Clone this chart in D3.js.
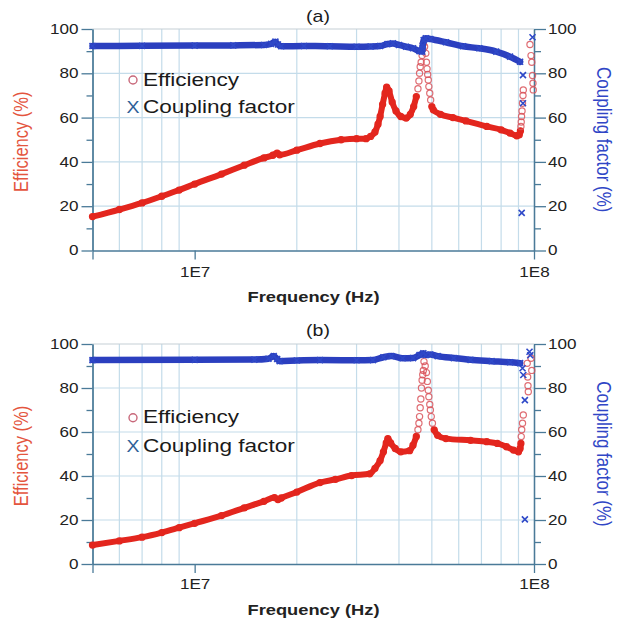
<!DOCTYPE html>
<html>
<head>
<meta charset="utf-8">
<script src="https://cdn.jsdelivr.net/npm/d3@7"></script>
<style>
  body { margin: 0; background: #fff; }
  svg { display: block; }
  text { font-family: "Liberation Sans", Arial, sans-serif; }
</style>
</head>
<body>
<svg id="chart" width="639" height="621"></svg>
<script>
// values: [frequency (Hz), percent]; null breaks the line
const xDomain = [5e6, 1e8];
const xGrid = [6e6, 7e6, 8e6, 9e6, 2e7, 3e7, 4e7, 5e7, 6e7, 7e7, 8e7, 9e7];
const xTicks = [5e6, 1e7, 1e8];
const xTickText = ["", "1E7", "1E8"];
const yTicks = [0, 20, 40, 60, 80, 100];
const yMinor = [10, 30, 50, 70, 90];

// panel (a)
const effA = [
  [5e6, 15.3], [6e6, 18.5], [7e6, 21.5], [8e6, 24.5], [9e6, 27.3], [1e7, 30],
  [1.2e7, 34.5], [1.4e7, 38.5], [1.6e7, 41.8], [1.7e7, 43], [1.75e7, 44], [1.78e7, 43.2],
  [2e7, 45.3], [2.34e7, 48.3], [2.7e7, 50], [3.0e7, 50.5], [3.2e7, 50.5], [3.3e7, 51.5],
  [3.4e7, 53.5], [3.47e7, 57], [3.52e7, 60.5], [3.58e7, 66], [3.64e7, 71], [3.68e7, 73.8],
  [3.74e7, 72], [3.82e7, 67], [3.92e7, 63], [4.05e7, 60.5], [4.2e7, 59.8], [4.32e7, 61.5],
  [4.42e7, 65], [4.5e7, 69.5], [4.52e7, null],
  [5.0e7, 65], [5.05e7, 63.5], [5.3e7, 61.5], [5.77e7, 60], [6.3e7, 58.5], [7.26e7, 56],
  [8.0e7, 54.5], [8.5e7, 53], [8.9e7, 51.8], [9.05e7, 52.3], [9.12e7, 54]
];
const effAScatter = [
  [4.55e7, 73], [4.58e7, 76.5], [4.6e7, 80], [4.62e7, 83], [4.65e7, 85], [4.68e7, 88],
  [4.7e7, 91], [4.72e7, 93.5], [4.76e7, 92], [4.8e7, 89], [4.82e7, 85], [4.84e7, 82],
  [4.86e7, 79.5], [4.88e7, 77], [4.9e7, 74], [4.93e7, 71], [4.96e7, 68],
  [9.15e7, 56], [9.17e7, 58], [9.19e7, 60.5], [9.22e7, 63], [9.25e7, 66.5], [9.28e7, 70],
  [9.3e7, 72.5], [9.73e7, 93], [9.8e7, 88], [9.85e7, 85], [9.9e7, 79], [9.93e7, 75.5], [9.95e7, 72.5]
];
const cfA = [
  [5e6, 92.3], [7e6, 92.4], [1e7, 92.5], [1.3e7, 92.6], [1.6e7, 92.8], [1.68e7, 93.3],
  [1.73e7, 94.3], [1.76e7, 93], [1.8e7, 92.2], [2.1e7, 92.3], [2.5e7, 92.2], [3.0e7, 92],
  [3.3e7, 92.1], [3.52e7, 92.3], [3.7e7, 93.2], [3.84e7, 93.5], [4.0e7, 92.8], [4.2e7, 92],
  [4.4e7, 91.3], [4.6e7, 90], [4.68e7, 89.8], [4.7e7, 92.5], [4.73e7, 95], [4.8e7, 95.8],
  [4.95e7, 95.5], [5.5e7, 94], [6.18e7, 92.2], [6.9e7, 91.3], [7.74e7, 89.8], [8.5e7, 87.5],
  [9.1e7, 85.2]
];
const cfAScatter = [
  [9.28e7, 79.2], [9.28e7, 66.5], [9.2e7, 17], [9.9e7, 96.3], [4.69e7, 91.2]
];

// panel (b)
const effB = [
  [5e6, 8.6], [6e6, 10.5], [7e6, 12.2], [8e6, 14.3], [9e6, 16.5], [1e7, 18.5],
  [1.2e7, 22], [1.4e7, 25.5], [1.6e7, 28.5], [1.72e7, 30.2], [1.76e7, 29.3], [1.8e7, 30],
  [2e7, 32.7], [2.34e7, 37], [2.6e7, 38.5], [2.9e7, 40.2], [3.28e7, 41], [3.4e7, 43.5],
  [3.52e7, 47], [3.6e7, 51], [3.67e7, 55], [3.71e7, 57], [3.78e7, 55], [3.9e7, 52.5],
  [4.05e7, 51], [4.3e7, 51.5], [4.4e7, 54], [4.5e7, 58], [4.52e7, null],
  [5.08e7, 61], [5.2e7, 58.5], [5.5e7, 57], [6.5e7, 56.2], [7.26e7, 55.6], [7.8e7, 54.8],
  [8.3e7, 53.3], [8.7e7, 51.8], [9.0e7, 51], [9.1e7, 52.5], [9.15e7, 54.8]
];
const effBScatter = [
  [4.55e7, 61], [4.58e7, 64], [4.6e7, 67], [4.62e7, 71], [4.64e7, 75], [4.66e7, 80],
  [4.68e7, 83.5], [4.7e7, 86], [4.72e7, 88], [4.74e7, 92], [4.78e7, 90], [4.82e7, 87],
  [4.85e7, 83], [4.88e7, 79], [4.9e7, 76], [4.93e7, 72.5], [4.95e7, 70], [4.98e7, 67],
  [5.02e7, 64],
  [9.17e7, 57.9], [9.2e7, 61], [9.25e7, 64], [9.3e7, 67.7], [9.55e7, 91.2], [9.58e7, 85],
  [9.6e7, 81], [9.62e7, 78.3], [9.8e7, 93.5], [9.85e7, 88]
];
const cfB = [
  [5e6, 92.7], [1e7, 92.8], [1.5e7, 92.9], [1.65e7, 93.3], [1.71e7, 94.5], [1.75e7, 93.2],
  [1.78e7, 92.2], [2e7, 92.5], [2.34e7, 92.7], [3.0e7, 92.6], [3.35e7, 92.7], [3.6e7, 94],
  [3.8e7, 94.5], [4.1e7, 93.5], [4.4e7, 93.6], [4.6e7, 95], [4.72e7, 95.8], [4.8e7, 95],
  [4.95e7, 95.2], [5.2e7, 94.5], [5.8e7, 93.6], [6.5e7, 92.8], [7.5e7, 92.2], [8.5e7, 91.7],
  [9.1e7, 91.3]
];
const cfBScatter = [
  [9.25e7, 89], [9.3e7, 85.9], [9.4e7, 74.5], [9.4e7, 20.3], [9.7e7, 96.5], [9.75e7, 94.9]
];

const SX = 1.22; // the source picture is stretched sideways
const svg = d3.select("#chart");
const x = d3.scaleLog().domain(xDomain).range([92.5, 534]);
const axisColor = "#4a7a98";
const gridColor = "#c4dcea";

function stretched(g, px, py, txt, size, opts = {}) {
  return g.append("text")
    .attr("transform", `translate(${px},${py}) scale(${SX},1)` + (opts.rotate ? ` rotate(${opts.rotate})` : ""))
    .attr("text-anchor", opts.anchor || "start")
    .attr("font-size", size)
    .attr("font-weight", opts.weight || "normal")
    .attr("fill", opts.fill || "#1a1a1a")
    .attr("dy", opts.dy || 0)
    .text(txt);
}

function styleAxis(a) {
  a.select(".domain").attr("stroke", axisColor).attr("stroke-width", 1.3);
  a.selectAll(".tick line").attr("stroke", axisColor).attr("stroke-width", 1.3);
  a.selectAll(".tick text")
    .attr("fill", "#222")
    .attr("font-size", 14)
    .attr("font-family", "Liberation Sans, Arial, sans-serif")
    .each(function() {
      const t = d3.select(this);
      t.attr("x", (+t.attr("x") || 0) / SX).attr("transform", `scale(${SX},1)`);
    });
}

function drawPanel(p) {
  const y = d3.scaleLinear().domain([0, 100]).range([p.y0, p.y100]);
  const g = svg.append("g");
  const [x0, x1] = x.range();

  // grid
  g.selectAll(".vgrid").data(xGrid).join("line")
    .attr("x1", d => x(d)).attr("x2", d => x(d))
    .attr("y1", y(0)).attr("y2", y(100))
    .attr("stroke", gridColor).attr("stroke-width", 1.2);
  g.selectAll(".hgrid").data(yTicks.slice(1)).join("line")
    .attr("x1", x0).attr("x2", x1)
    .attr("y1", d => y(d)).attr("y2", d => y(d))
    .attr("stroke", d => d === 100 ? "#c6cfd6" : gridColor).attr("stroke-width", 1.2);

  // axes
  const left = g.append("g").attr("transform", `translate(${x0},0)`)
    .call(d3.axisLeft(y).tickValues(yTicks).tickSize(11).tickSizeOuter(0).tickPadding(3));
  const leftMinor = g.append("g").attr("transform", `translate(${x0},0)`)
    .call(d3.axisLeft(y).tickValues(yMinor).tickSize(6).tickSizeOuter(0).tickFormat(""));
  const right = g.append("g").attr("transform", `translate(${x1},0)`)
    .call(d3.axisRight(y).tickValues(yTicks).tickSize(12).tickSizeOuter(0).tickPadding(2));
  const rightMinor = g.append("g").attr("transform", `translate(${x1},0)`)
    .call(d3.axisRight(y).tickValues(yMinor).tickSize(7).tickSizeOuter(0).tickFormat(""));
  const bottom = g.append("g").attr("transform", `translate(0,${y(0)})`)
    .call(d3.axisBottom(x).tickValues(xTicks).tickSize(9).tickSizeOuter(0)
      .tickFormat((d, i) => xTickText[i]));
  [left, leftMinor, right, rightMinor, bottom].forEach(styleAxis);
  bottom.selectAll(".tick text").attr("y", p.xLabelDy).attr("dy", 0);

  // series
  const line = d3.line()
    .defined(d => d[1] != null)
    .x(d => x(d[0])).y(d => y(d[1]))
    .curve(d3.curveMonotoneX);

  g.append("path").datum(p.eff).attr("d", line)
    .attr("fill", "none").attr("stroke", "#e3261e").attr("stroke-width", 6)
    .attr("stroke-linecap", "round").attr("stroke-linejoin", "round");
  g.selectAll(".effpt").data(p.eff.filter(d => d[1] != null)).join("circle")
    .attr("cx", d => x(d[0])).attr("cy", d => y(d[1])).attr("r", 3)
    .attr("fill", "none").attr("stroke", "#e3261e").attr("stroke-width", 1.3);
  g.selectAll(".effsc").data(p.effScatter).join("circle")
    .attr("cx", d => x(d[0])).attr("cy", d => y(d[1])).attr("r", 3.1)
    .attr("fill", "none").attr("stroke", "#d9545a").attr("stroke-width", 1.2)
    .attr("opacity", 0.85);

  g.append("path").datum(p.cf).attr("d", line)
    .attr("fill", "none").attr("stroke", "#2b3fbf").attr("stroke-width", 6.5)
    .attr("stroke-linecap", "round").attr("stroke-linejoin", "round");
  const cross = "M-3,-3L3,3M-3,3L3,-3";
  g.selectAll(".cfpt").data(p.cf.concat(p.cfScatter)).join("path")
    .attr("transform", d => `translate(${x(d[0])},${y(d[1])})`)
    .attr("d", cross).attr("fill", "none")
    .attr("stroke", "#2f49c8").attr("stroke-width", 1.6);

  // texts
  stretched(g, 318, p.titleY, p.title, 16, { anchor: "middle" });
  stretched(g, 313.5, p.xTitleY, "Frequency (Hz)", 15, { anchor: "middle", weight: "bold", fill: "#222" });
  stretched(g, 21, (p.y0 + p.y100) / 2 + 2, "Efficiency (%)", 16.5,
    { anchor: "middle", rotate: -90, dy: "0.35em", fill: "#e4553e" });
  stretched(g, 604, (p.y0 + p.y100) / 2, "Coupling factor (%)", 17,
    { anchor: "middle", rotate: 90, dy: "0.35em", fill: "#3046c6" });

  // legend
  g.append("circle").attr("cx", 133).attr("cy", p.legY1 - 5.5).attr("r", 4)
    .attr("fill", "none").attr("stroke", "#c8687a").attr("stroke-width", 1.4);
  stretched(g, 143, p.legY1, "Efficiency", 18.5);
  stretched(g, 133, p.legY2, "X", 16, { anchor: "middle", fill: "#2f5f98" });
  stretched(g, 143, p.legY2, "Coupling factor", 18.5);
}

drawPanel({
  title: "(a)", titleY: 22, y100: 29, y0: 250.5, xLabelDy: 26.5, xTitleY: 302,
  legY1: 85.5, legY2: 113,
  eff: effA, effScatter: effAScatter, cf: cfA, cfScatter: cfAScatter
});
drawPanel({
  title: "(b)", titleY: 336, y100: 344, y0: 564, xLabelDy: 25, xTitleY: 615,
  legY1: 423.3, legY2: 451.7,
  eff: effB, effScatter: effBScatter, cf: cfB, cfScatter: cfBScatter
});
</script>
</body>
</html>
